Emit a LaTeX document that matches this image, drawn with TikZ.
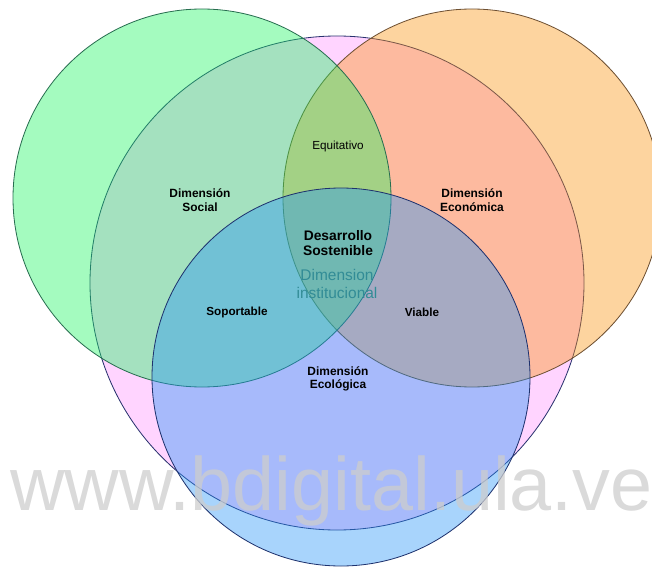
\documentclass[tikz,border=0pt]{standalone}
\usepackage{fontspec}
\setmainfont{Liberation Sans}
\usetikzlibrary{positioning}

\definecolor{socialgreen}{RGB}{28,245,95}
\definecolor{econorange}{RGB}{250,147,16}
\definecolor{ecoblue}{RGB}{37,147,247}
\definecolor{instpink}{RGB}{255,212,255}
\definecolor{instteal}{RGB}{50,140,150}
\definecolor{markgray}{RGB}{205,205,205}

\tikzset{
  dimcircle/.style={line width=0.7pt, fill opacity=0.4},
  dimlabel/.style={font=\bfseries\fontsize{10.2}{11.5}\selectfont, align=center, inner sep=0pt},
  pairlabel/.style={font=\bfseries\fontsize{10}{11.5}\selectfont, inner sep=0pt}
}

\begin{document}
\begin{tikzpicture}[x=0.03cm, y=-0.03cm]
    \useasboundingbox (0,0) rectangle (652,568);

    % Dimension institucional (fondo)
    \draw[line width=0.7pt, draw={rgb,255:red,40;green,50;blue,110}, fill=instpink] (337,283) circle (247);

    % Dimensiones
    \draw[dimcircle, draw={rgb,255:red,110;green,80;blue,50}, fill=econorange] (472,198) circle (189);
    \draw[dimcircle, draw={rgb,255:red,40;green,110;blue,80}, fill=socialgreen] (202,198) circle (189);
    \draw[dimcircle, draw={rgb,255:red,30;green,50;blue,110}, fill=ecoblue] (341,377) circle (189);

    % Etiquetas
    \node[dimlabel] (social) at (200,200) {Dimensión\\Social};
    \node[dimlabel] (economica) at (472,200) {Dimensión\\Económica};
    \node[dimlabel] (ecologica) at (338,379) {Dimensión\\Ecológica};
    \node[inner sep=0pt, font=\fontsize{10}{12}\selectfont] (equitativo) at (338,146) {Equitativo};
    \node[pairlabel] (soportable) at (237,312) {Soportable};
    \node[pairlabel] (viable) at (422,312) {Viable};
    \node[dimlabel, font=\bfseries\fontsize{11.8}{12.8}\selectfont] (desarrollo) at (338,243) {Desarrollo\\Sostenible};
    \node[align=center, inner sep=0pt, text=instteal, font=\fontsize{13.2}{15.3}\selectfont] (institucional) at (337,284) {Dimension\\institucional};

    % Marca de agua
    \node[anchor=base west, inner sep=0pt, text=markgray, text opacity=0.75, font=\fontsize{64.5}{64}\selectfont] (marca) at (10,510) {www.bdigital.ula.ve};
\end{tikzpicture}
\end{document}
